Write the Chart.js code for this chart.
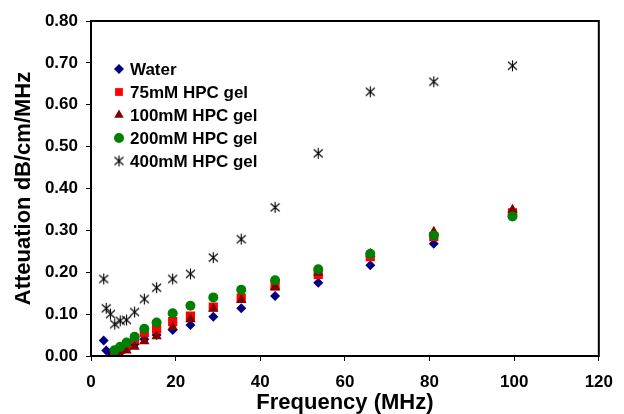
<!DOCTYPE html>
<html>
<head>
<meta charset="utf-8">
<script src="https://cdn.jsdelivr.net/npm/chart.js@4/dist/chart.umd.min.js"></script>
<style>
  html, body { margin: 0; padding: 0; background: #fff; }
  #wrap { width: 624px; height: 414px; }
</style>
</head>
<body>
<div id="wrap"><canvas id="chart" width="624" height="414"></canvas></div>
<script>
// Frequencies (MHz)
const freqAll = [3.0, 3.6, 4.6, 5.6, 6.9, 8.4, 10.3, 12.6, 15.5, 19.3, 23.5, 28.9, 35.5, 43.5, 53.7, 66.0, 81.0, 99.6];
const freqGel = freqAll.slice(3);   // gels start at ~5.6 MHz
const freq100 = freqAll.slice(4);   // 100mM starts at ~6.9 MHz

// Attenuation dB/cm/MHz
const water = [0.037, 0.013, 0.008, 0.010, 0.014, 0.020, 0.028, 0.040, 0.050, 0.062, 0.074, 0.094, 0.114, 0.143, 0.175, 0.217, 0.268, 0.338];
const hpc75 = [0.008, 0.016, 0.024, 0.040, 0.056, 0.064, 0.082, 0.095, 0.117, 0.138, 0.167, 0.195, 0.237, 0.285, 0.342];
const hpc100 = [0.003, 0.013, 0.022, 0.035, 0.047, 0.069, 0.088, 0.113, 0.134, 0.165, 0.199, 0.244, 0.297, 0.349];
const hpc200 = [0.014, 0.022, 0.032, 0.046, 0.065, 0.080, 0.102, 0.120, 0.140, 0.158, 0.181, 0.207, 0.244, 0.288, 0.333];
const hpc400 = [0.184, 0.114, 0.100, 0.076, 0.084, 0.086, 0.105, 0.136, 0.163, 0.184, 0.196, 0.235, 0.279, 0.355, 0.484, 0.631, 0.655, 0.693];

const seriesNames = ['Water', '75mM HPC gel', '100mM HPC gel', '200mM HPC gel', '400mM HPC gel'];
const xTicks = [0, 20, 40, 60, 80, 100, 120];
const yTicks = [0, 0.1, 0.2, 0.3, 0.4, 0.5, 0.6, 0.7, 0.8];

const FONT = 'Liberation Sans, Arial, sans-serif';

// asterisk marker for the 400mM series
function makeAsterisk() {
    const c = document.createElement('canvas');
    c.width = 13; c.height = 13;
    const g = c.getContext('2d');
    g.strokeStyle = '#000';
    g.lineWidth = 1.1;
    g.beginPath();
    g.moveTo(6.5, 1); g.lineTo(6.5, 12);
    g.moveTo(2, 2.5); g.lineTo(11, 10.5);
    g.moveTo(11, 2.5); g.lineTo(2, 10.5);
    g.stroke();
    return c;
}
const asterisk = makeAsterisk();

function pts(xs, ys) {
    return ys.map((y, i) => ({ x: xs[i], y: y }));
}

const datasets = [
    { label: seriesNames[0], data: pts(freqAll, water), pointStyle: 'rectRot', radius: 5, color: '#000080', order: 5 },
    { label: seriesNames[1], data: pts(freqGel, hpc75), pointStyle: 'rect', radius: 6.5, color: '#FF0000', order: 4 },
    { label: seriesNames[2], data: pts(freq100, hpc100), pointStyle: 'triangle', radius: 6, color: '#800000', order: 3 },
    { label: seriesNames[3], data: pts(freqGel, hpc200), pointStyle: 'circle', radius: 5, color: '#008000', order: 2 },
    { label: seriesNames[4], data: pts(freqAll, hpc400), pointStyle: asterisk, radius: 6, color: '#000000', order: 1 }
].map(d => ({
    label: d.label,
    data: d.data,
    order: d.order,
    showLine: false,
    pointStyle: d.pointStyle,
    pointRadius: d.radius,
    pointHoverRadius: d.radius,
    pointBackgroundColor: d.color,
    pointBorderColor: d.color,
    pointBorderWidth: 0,
    backgroundColor: d.color,
    borderColor: d.color
}));

// frame round the plot area
const frame = {
    id: 'frame',
    afterDatasetsDraw(chart) {
        const a = chart.chartArea;
        const ctx = chart.ctx;
        ctx.save();
        ctx.strokeStyle = '#000';
        ctx.lineWidth = 2;
        ctx.strokeRect(a.left, a.top, a.right - a.left, a.bottom - a.top);
        ctx.restore();
    }
};

// legend inside the plot, top left
const insideLegend = {
    id: 'insideLegend',
    afterDraw(chart) {
        const a = chart.chartArea;
        const ctx = chart.ctx;
        ctx.save();
        ctx.font = 'bold 17px ' + FONT;
        ctx.textBaseline = 'middle';
        chart.data.datasets.forEach((ds, i) => {
            const y = a.top + 48 + i * 23;
            const x = a.left + 28;
            ctx.fillStyle = ds.pointBackgroundColor;
            ctx.strokeStyle = ds.pointBorderColor;
            Chart.helpers.drawPoint(ctx, {
                pointStyle: ds.pointStyle,
                radius: Math.min(ds.pointRadius, 5.5),
                rotation: 0,
                borderWidth: 0
            }, x, y);
            ctx.fillStyle = '#000';
            ctx.fillText(ds.label, x + 11, y + 1);
        });
        ctx.restore();
    }
};

new Chart(document.getElementById('chart'), {
    type: 'scatter',
    data: { datasets: datasets },
    plugins: [frame, insideLegend],
    options: {
        responsive: false,
        animation: false,
        devicePixelRatio: 1,
        layout: { padding: { left: 0, top: 21, right: 16, bottom: 0 } },
        plugins: {
            legend: { display: false },
            tooltip: { enabled: false }
        },
        scales: {
            x: {
                type: 'linear',
                min: 0,
                max: 120,
                afterBuildTicks: s => { s.ticks = xTicks.map(v => ({ value: v })); },
                afterFit: s => { s.height = 58; },
                border: { display: false },
                grid: { display: true, drawOnChartArea: false, drawTicks: true, tickLength: 5, color: '#000', lineWidth: 1 },
                ticks: {
                    color: '#000',
                    padding: 11,
                    font: { family: FONT, size: 17, weight: 'bold' },
                    maxRotation: 0,
                    callback: v => String(v)
                },
                title: {
                    display: true,
                    text: 'Frequency (MHz)',
                    color: '#000',
                    padding: { top: 0, bottom: 0 },
                    font: { family: FONT, size: 22, weight: 'bold', lineHeight: 1 }
                }
            },
            y: {
                type: 'linear',
                min: 0,
                max: 0.8,
                afterBuildTicks: s => { s.ticks = yTicks.map(v => ({ value: v })); },
                afterFit: s => { s.width = 91; },
                border: { display: false },
                grid: { display: true, drawOnChartArea: false, drawTicks: true, tickLength: 5, color: '#000', lineWidth: 1 },
                ticks: {
                    color: '#000',
                    padding: 8,
                    font: { family: FONT, size: 17, weight: 'bold' },
                    callback: v => v.toFixed(2)
                },
                title: {
                    display: true,
                    text: 'Atteuation dB/cm/MHz',
                    color: '#000',
                    padding: { top: 13, bottom: 0 },
                    font: { family: FONT, size: 22, weight: 'bold', lineHeight: 1 }
                }
            }
        }
    }
});
</script>
</body>
</html>
